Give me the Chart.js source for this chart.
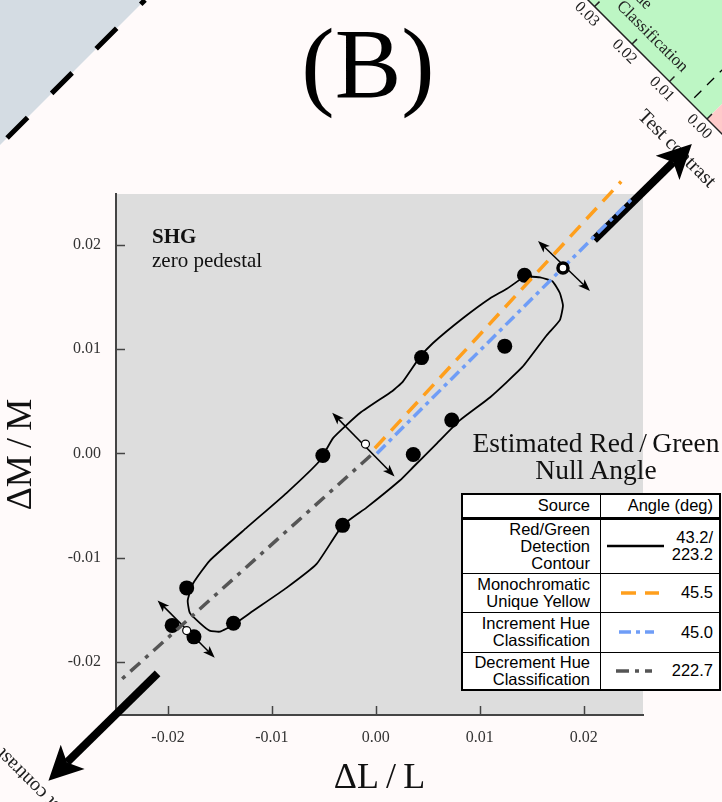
<!DOCTYPE html>
<html>
<head>
<meta charset="utf-8">
<script src="https://cdn.jsdelivr.net/npm/chart.js@4"></script>
<style>
  html, body { margin: 0; padding: 0; background: #fffafa; }
  #wrap { position: relative; width: 722px; height: 802px; overflow: hidden; }
  #chart { position: absolute; left: 0; top: 0; }
  #panel { position: absolute; left: 268px; top: 14px; width: 200px; text-align: center;
           font: 100px/100px "Liberation Serif", serif; color: #000; }
  #nullTitle { position: absolute; left: 450px; top: 429px; width: 292px; text-align: center;
               font: 27.5px/27px "Liberation Serif", serif; color: #111; }
  #legend { position: absolute; left: 461px; top: 493px; border-collapse: collapse; background: #fff;
            font: 16.5px/17px "Liberation Sans", Arial, sans-serif; color: #000; border: 2px solid #000; }
  #legend td { border: 1.5px solid #000; padding: 0; vertical-align: middle; }
  #legend td.src { width: 127px; text-align: right; padding-right: 10px; }
  #legend td.ang { width: 112px; text-align: right; padding-right: 6px; position: relative; }
  #legend tr.head td { border-bottom: 3px solid #000; }
  #legend svg { position: absolute; top: 50%; transform: translateY(-50%); }
</style>
</head>
<body>
<div id="wrap">
  <canvas id="chart" width="722" height="802"></canvas>
  <div id="panel">(B)</div>
  <div id="nullTitle">Estimated Red&thinsp;/&thinsp;Green<br>Null Angle</div>
  <table id="legend"></table>
</div>
<script>
// axis ticks
const tickVals = [-0.02, -0.01, 0, 0.01, 0.02];
const tickLabels = ['-0.02', '-0.01', '0.00', '0.01', '0.02'];
const xRange = [-0.025, 0.0257];
const yRange = [-0.0251, 0.0249];

// red/green detection contour (dL/L, dM/M)
const contourL = [0.0143, 0.0158, 0.0170, 0.0177, 0.0180, 0.0177, 0.0164, 0.0141, 0.0110, 0.0081,
                  0.0059, 0.0036, 0.0023, -0.0009, -0.0032, -0.0057, -0.0086, -0.0118, -0.0138, -0.0150,
                  -0.0160, -0.0169, -0.0179, -0.0181, -0.0176, -0.0160, -0.0124, -0.0086, -0.0054, -0.0041,
                  -0.0015, 0.0016, 0.0026, 0.0042, 0.0055, 0.0084, 0.0110, 0.0126, 0.0143];
const contourM = [0.0170, 0.0169, 0.0165, 0.0154, 0.0142, 0.0128, 0.0113, 0.0083, 0.0054, 0.0032,
                  0.0010, -0.0013, -0.0026, -0.0052, -0.0069, -0.0106, -0.0129, -0.0151, -0.0165, -0.0171,
                  -0.0170, -0.0163, -0.0153, -0.0141, -0.0125, -0.0103, -0.0071, -0.0038, -0.0007, 0.0015,
                  0.0039, 0.0060, 0.0069, 0.0092, 0.0106, 0.0130, 0.0149, 0.0158, 0.0170];

// detection thresholds (filled dots)
const threshL = [0.0143, 0.0124, 0.0044, 0.0073, 0.0036, -0.0051, -0.0032, -0.0182, -0.0196, -0.0175, -0.0137];
const threshM = [0.0171, 0.0103, 0.0092, 0.0032, -0.0001, -0.0002, -0.0069, -0.0129, -0.0165, -0.0176, -0.0163];

// null points (open circles) and test point (ringed)
const nullL = [-0.0010, -0.0182];
const nullM = [0.0009, -0.0170];
const testL = [0.0180];
const testM = [0.0178];

// null angle lines
const yellowL = [-0.0001, 0.0236];
const yellowM = [0.0005, 0.0261];
const incL = [0.0001, 0.0247];
const incM = [0.0000, 0.0245];
const decL = [-0.0005, -0.0246];
const decM = [-0.0002, -0.0218];

// test contrast direction arrows: [fromL, fromM, toL, toM]
const contrastArrows = [[0.0210, 0.0205, 0.0304, 0.0297], [-0.0210, -0.0211, -0.0315, -0.0314]];
// probe arrows through the null points (double headed)
const probeArrows = [[-0.0042, 0.0039, 0.0018, -0.0022], [-0.0210, -0.0141, -0.0155, -0.0196], [0.0156, 0.0204, 0.0206, 0.0156]];

// neighbouring panel axis
const sideTicks = [0, 0.01, 0.02, 0.03];
const sideLabels = ['0.00', '0.01', '0.02', '0.03'];

// legend table
const legendSources = [['Red/Green', 'Detection', 'Contour'], ['Monochromatic', 'Unique Yellow'],
                       ['Increment Hue', 'Classification'], ['Decrement Hue', 'Classification']];
const legendAngles = [['43.2/', '223.2'], ['45.5'], ['45.0'], ['222.7']];

const BLACK = '#000', ORANGE = '#ff9f1c', BLUE = '#6f9df7', GRAY = '#555';
const lineStyles = [
  {color: BLACK, width: 2.5, dash: []},
  {color: ORANGE, width: 3.5, dash: [15, 9]},
  {color: BLUE, width: 3.5, dash: [12, 5, 4, 5]},
  {color: GRAY, width: 3.5, dash: [13, 6, 4, 6]}
];
const sampleBox = [[6, 57], [20, 38], [18, 35], [15, 36]];
const rowHeights = [24, 55, 39, 40, 38];

// build legend table
const table = document.getElementById('legend');
let html = '<tr class="head" style="height:' + rowHeights[0] + 'px"><td class="src">Source</td><td class="ang">Angle (deg)</td></tr>';
legendSources.forEach((src, i) => {
  const st = lineStyles[i];
  const [left, w] = sampleBox[i];
  html += '<tr style="height:' + rowHeights[i + 1] + 'px"><td class="src">' + src.join('<br>') + '</td>' +
    '<td class="ang"><svg width="' + w + '" height="6" style="left:' + left + 'px"><line x1="0" y1="3" x2="' + w +
    '" y2="3" stroke="' + st.color + '" stroke-width="' + st.width + '" stroke-dasharray="' + (st.dash.join(' ') || 'none') +
    '"/></svg>' + legendAngles[i].join('<br>') + '</td></tr>';
});
table.innerHTML = html;

function arrowHead(ctx, x, y, ang, len, half, notch) {
  ctx.save();
  ctx.translate(x, y);
  ctx.rotate(ang);
  ctx.beginPath();
  ctx.moveTo(0, 0);
  ctx.lineTo(-len, -half);
  ctx.lineTo(-len + notch, 0);
  ctx.lineTo(-len, half);
  ctx.closePath();
  ctx.fill();
  ctx.restore();
}

const decor = {
  id: 'decor',
  beforeDraw(chart) {
    const {ctx, chartArea: a} = chart;
    ctx.save();
    ctx.fillStyle = '#fffafa';
    ctx.fillRect(0, 0, chart.width, chart.height);

    // neighbouring panel, top left
    ctx.fillStyle = '#d4dce3';
    ctx.beginPath();
    ctx.moveTo(0, 0); ctx.lineTo(145, 0); ctx.lineTo(0, 145);
    ctx.closePath();
    ctx.fill();
    ctx.strokeStyle = '#000';
    ctx.lineWidth = 5;
    ctx.setLineDash([29, 34]);
    ctx.lineDashOffset = -10;
    ctx.beginPath();
    ctx.moveTo(0, 145); ctx.lineTo(145, 0);
    ctx.stroke();
    ctx.setLineDash([]);
    ctx.lineDashOffset = 0;

    // neighbouring panel, top right (rotated)
    ctx.save();
    ctx.translate(707, 119);
    ctx.rotate(Math.PI / 4);
    ctx.fillStyle = '#bdf6c4';
    ctx.fillRect(-320, -220, 320, 220);
    ctx.fillStyle = '#ffcaca';
    ctx.fillRect(0, -220, 120, 220);
    ctx.strokeStyle = '#000';
    ctx.lineWidth = 1.3;
    ctx.setLineDash([10, 8]);
    ctx.beginPath();
    ctx.moveTo(-24, -6); ctx.lineTo(-24, -200);
    ctx.stroke();
    ctx.setLineDash([]);
    ctx.strokeStyle = '#222';
    ctx.lineWidth = 1.5;
    ctx.beginPath();
    ctx.moveTo(-320, 0); ctx.lineTo(40, 0);
    ctx.stroke();
    ctx.fillStyle = '#222';
    ctx.font = '16px "Liberation Serif"';
    ctx.textAlign = 'center';
    ctx.textBaseline = 'middle';
    sideTicks.forEach((v, i) => {
      const lx = -v * 5300;
      ctx.beginPath();
      ctx.moveTo(lx, 0); ctx.lineTo(lx, -7);
      ctx.stroke();
      ctx.fillText(sideLabels[i], lx, 11);
    });
    ctx.textBaseline = 'alphabetic';
    ctx.font = '17px "Liberation Serif"';
    ctx.fillText('Classification', -97, -15);
    ctx.fillText('de', -128, -34);
    ctx.textAlign = 'left';
    ctx.font = '20px "Liberation Serif"';
    ctx.fillText('Test contrast', -51, 48);
    ctx.restore();

    // neighbouring panel, bottom left
    ctx.save();
    ctx.translate(75, 819);
    ctx.rotate(5 * Math.PI / 4);
    ctx.fillStyle = '#222';
    ctx.font = '20px "Liberation Serif"';
    ctx.fillText('Test contrast', 0, 0);
    ctx.restore();

    // plot background
    ctx.fillStyle = '#dddddd';
    ctx.fillRect(a.left, a.top, a.right - a.left, a.bottom - a.top);
    ctx.restore();
  },
  beforeDatasetsDraw(chart) {
    const {ctx, chartArea: a, scales: {x, y}} = chart;
    ctx.save();
    // inward tick marks
    ctx.strokeStyle = '#444';
    ctx.lineWidth = 1.5;
    x.ticks.forEach(t => {
      const px = Math.round(x.getPixelForValue(t.value)) + 0.5;
      ctx.beginPath(); ctx.moveTo(px, a.bottom); ctx.lineTo(px, a.bottom - 9); ctx.stroke();
    });
    y.ticks.forEach(t => {
      const py = Math.round(y.getPixelForValue(t.value)) + 0.5;
      ctx.beginPath(); ctx.moveTo(a.left, py); ctx.lineTo(a.left + 9, py); ctx.stroke();
    });

    // panel labels
    ctx.fillStyle = '#111';
    ctx.font = 'bold 21px "Liberation Serif"';
    ctx.fillText('SHG', a.left + 36, a.top + 49);
    ctx.font = '21px "Liberation Serif"';
    ctx.fillText('zero pedestal', a.left + 36, a.top + 73);

    // test contrast arrows
    ctx.strokeStyle = '#000';
    ctx.fillStyle = '#000';
    contrastArrows.forEach(([l1, m1, l2, m2]) => {
      const x1 = x.getPixelForValue(l1), y1 = y.getPixelForValue(m1);
      const x2 = x.getPixelForValue(l2), y2 = y.getPixelForValue(m2);
      const ang = Math.atan2(y2 - y1, x2 - x1);
      ctx.lineWidth = 8;
      ctx.beginPath();
      ctx.moveTo(x1, y1);
      ctx.lineTo(x2 - Math.cos(ang) * 26, y2 - Math.sin(ang) * 26);
      ctx.stroke();
      arrowHead(ctx, x2, y2, ang, 34, 17, 8);
    });

    // probe arrows
    ctx.lineWidth = 1.5;
    probeArrows.forEach(([l1, m1, l2, m2]) => {
      const x1 = x.getPixelForValue(l1), y1 = y.getPixelForValue(m1);
      const x2 = x.getPixelForValue(l2), y2 = y.getPixelForValue(m2);
      const ang = Math.atan2(y2 - y1, x2 - x1);
      ctx.beginPath();
      ctx.moveTo(x1 + Math.cos(ang) * 6, y1 + Math.sin(ang) * 6);
      ctx.lineTo(x2 - Math.cos(ang) * 6, y2 - Math.sin(ang) * 6);
      ctx.stroke();
      arrowHead(ctx, x2, y2, ang, 12, 4.5, 3);
      arrowHead(ctx, x1, y1, ang + Math.PI, 12, 4.5, 3);
    });
    ctx.restore();
  }
};

const pts = (xs, ys) => xs.map((v, i) => ({x: v, y: ys[i]}));
const serif = 'Liberation Serif';

new Chart(document.getElementById('chart'), {
  type: 'scatter',
  data: {
    datasets: [
      {label: 'Test point', data: pts(testL, testM), pointRadius: 5, pointBorderWidth: 3.5,
       pointBackgroundColor: '#fff', pointBorderColor: '#000', order: 0, clip: false},
      {label: 'Null points', data: pts(nullL, nullM), pointRadius: 4, pointBorderWidth: 1.2,
       pointBackgroundColor: '#fff', pointBorderColor: '#000', order: 1},
      {label: 'Increment Hue Classification', data: pts(incL, incM), showLine: true, pointRadius: 0,
       borderColor: BLUE, borderWidth: 3.5, borderDash: lineStyles[2].dash, order: 2, clip: false},
      {label: 'Monochromatic Unique Yellow', data: pts(yellowL, yellowM), showLine: true, pointRadius: 0,
       borderColor: ORANGE, borderWidth: 3.5, borderDash: lineStyles[1].dash, order: 3, clip: false},
      {label: 'Decrement Hue Classification', data: pts(decL, decM), showLine: true, pointRadius: 0,
       borderColor: GRAY, borderWidth: 3.5, borderDash: [13, 7, 4, 7], order: 4},
      {label: 'Detection thresholds', data: pts(threshL, threshM), pointRadius: 7.5, pointBorderWidth: 0,
       pointBackgroundColor: '#000', pointBorderColor: '#000', order: 5},
      {label: 'Red/Green Detection Contour', data: pts(contourL, contourM), showLine: true, pointRadius: 0,
       borderColor: '#000', borderWidth: 1.8, tension: 0.15, order: 6}
    ]
  },
  options: {
    responsive: false,
    animation: false,
    devicePixelRatio: 1,
    layout: {padding: {left: 0, top: 194, right: 79, bottom: 0}},
    plugins: {legend: {display: false}, tooltip: {enabled: false}},
    scales: {
      x: {
        type: 'linear', min: xRange[0], max: xRange[1],
        afterBuildTicks: s => { s.ticks = tickVals.map(v => ({value: v})); },
        afterFit: s => { s.height = 87; },
        grid: {display: false, drawTicks: false},
        border: {display: true, color: '#444', width: 2},
        ticks: {padding: 13, color: '#333', autoSkip: false, maxRotation: 0,
                font: {family: serif, size: 16},
                callback: v => tickLabels[tickVals.indexOf(v)]},
        title: {display: true, text: 'ΔL\u2009/\u2009L', color: '#111',
                font: {family: serif, size: 36}, padding: {top: 0, bottom: 2}}
      },
      y: {
        type: 'linear', min: yRange[0], max: yRange[1],
        afterBuildTicks: s => { s.ticks = tickVals.map(v => ({value: v})); },
        afterFit: s => { s.width = 116; },
        grid: {display: false, drawTicks: false},
        border: {display: true, color: '#444', width: 2},
        ticks: {padding: 15, color: '#333', autoSkip: false,
                font: {family: serif, size: 16},
                callback: v => tickLabels[tickVals.indexOf(v)]},
        title: {display: true, text: 'ΔM\u2009/\u2009M', color: '#111',
                font: {family: serif, size: 36}, padding: {top: 0, bottom: 0}}
      }
    }
  },
  plugins: [decor]
});
</script>
</body>
</html>
